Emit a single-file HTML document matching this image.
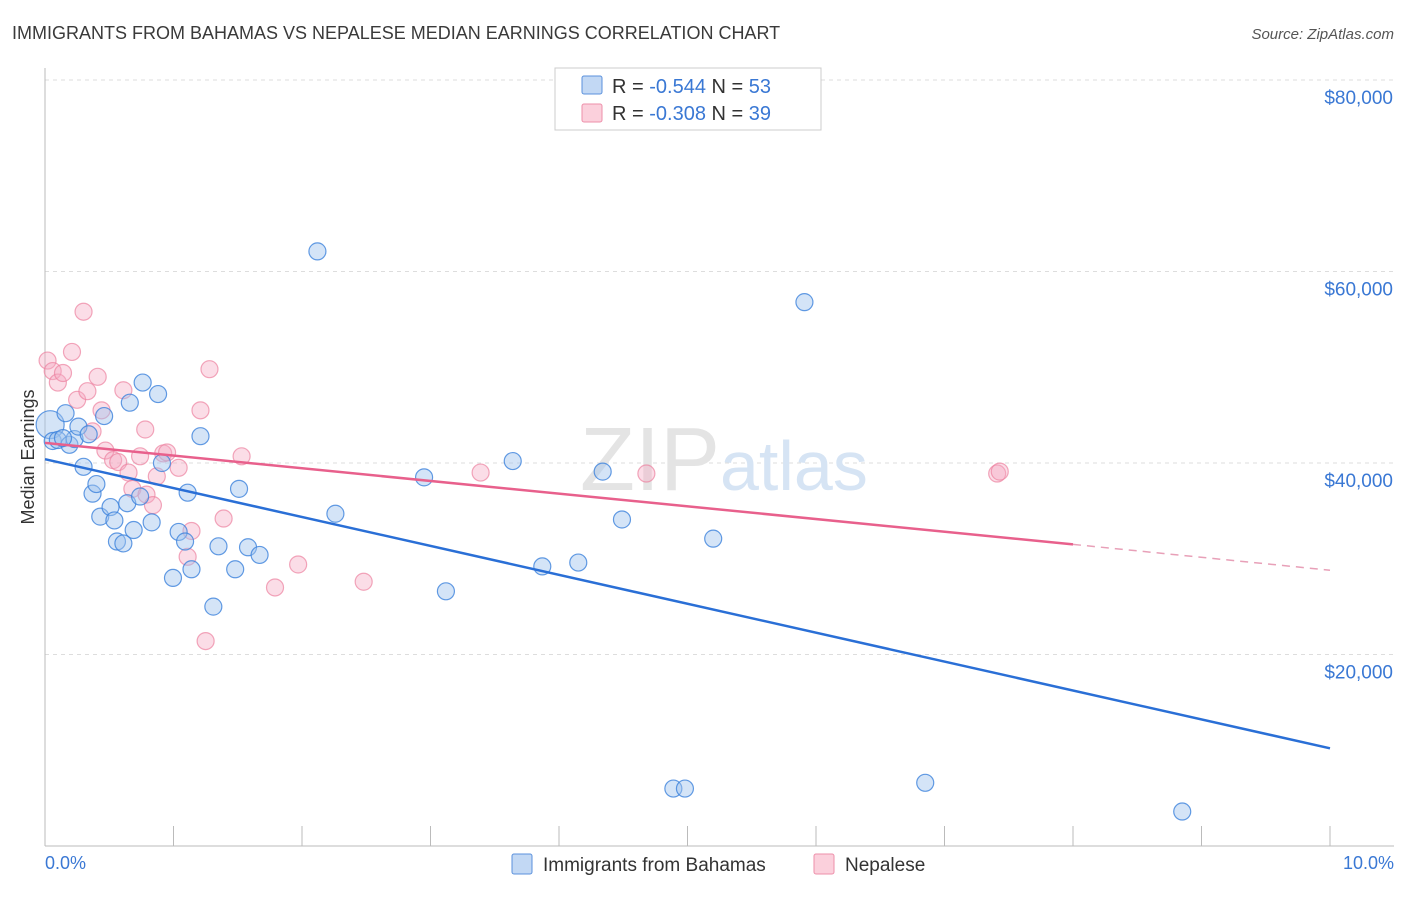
<!DOCTYPE html>
<html><head><meta charset="utf-8"><style>
body{margin:0;background:#fff;font-family:"Liberation Sans",sans-serif;}
svg text{font-family:"Liberation Sans",sans-serif;}
</style></head><body>
<svg id="chart" width="1406" height="892" viewBox="0 0 1406 892">
<text x="12" y="39" font-size="18" fill="#3a3a3a">IMMIGRANTS FROM BAHAMAS VS NEPALESE MEDIAN EARNINGS CORRELATION CHART</text>
<text x="1394" y="39" font-size="15" fill="#555" font-style="italic" text-anchor="end">Source: ZipAtlas.com</text>
<g id="grid"></g>
<text x="720" y="490" font-size="90" fill="#e4e4e4" font-family="Liberation Serif" text-anchor="end">ZIP</text>
<text x="720" y="490" font-size="70" fill="#d6e4f4">atlas</text>
<line x1="45" y1="68" x2="45" y2="846" stroke="#bbb"/>
<line x1="45" y1="846" x2="1394" y2="846" stroke="#bbb"/>
<g id="xticks"></g>
<text x="45" y="869" font-size="18" fill="#3a78d4">0.0%</text>
<text x="1394" y="869" font-size="18" fill="#3a78d4" text-anchor="end">10.0%</text>
<text transform="translate(34,457) rotate(-90)" font-size="18" fill="#333" text-anchor="middle">Median Earnings</text>
<g id="points"></g>
<g id="trends"></g>
<g>
<rect x="555" y="68" width="266" height="62" fill="#fff" stroke="#ccc"/>
<rect x="582" y="76" width="20" height="18" fill="#c2d8f4" stroke="#5b91dc" rx="2"/>
<rect x="582" y="104" width="20" height="18" fill="#fbd0dc" stroke="#ee8faa" rx="2"/>
<text x="612" y="93" font-size="20" fill="#333">R = <tspan fill="#3a78d4">-0.544</tspan>   N = <tspan fill="#3a78d4">53</tspan></text>
<text x="612" y="120" font-size="20" fill="#333">R = <tspan fill="#3a78d4">-0.308</tspan>   N = <tspan fill="#3a78d4">39</tspan></text>
</g>
<g>
<rect x="512" y="854" width="20" height="20" fill="#c2d8f4" stroke="#5b91dc" rx="2"/>
<text x="543" y="871" font-size="19" fill="#333">Immigrants from Bahamas</text>
<rect x="814" y="854" width="20" height="20" fill="#fbd0dc" stroke="#ee8faa" rx="2"/>
<text x="845" y="871" font-size="19" fill="#333">Nepalese</text>
</g>
</svg>
<script>
const yTicks=[20000,40000,60000,80000];
const yTickLabels=["$20,000","$40,000","$60,000","$80,000"];
const xTicks=[0,1,2,3,4,5,6,7,8,9,10];
const blueX=[0.04,0.06,0.10,0.16,0.19,0.23,0.26,0.30,0.34,0.37,0.40,0.43,0.46,0.51,0.54,0.56,0.61,0.64,0.69,0.74,0.76,0.83,0.88,0.66,0.91,0.996,1.04,1.09,1.11,1.14,1.21,1.31,1.35,1.48,1.51,1.58,1.67,2.12,2.26,2.95,3.12,3.64,3.87,4.15,4.34,4.49,4.89,4.98,5.20,5.91,6.85,8.85,0.14];
const blueY=[44000,42300,42400,45200,41900,42500,43800,39600,43000,36800,37800,34400,44900,35400,34000,31800,31600,35800,33000,36500,48400,33800,47200,46300,40000,28000,32800,31800,36900,28900,42800,25000,31300,28900,37300,31200,30400,62100,34700,38500,26600,40200,29200,29600,39100,34100,6000,6000,32100,56800,6600,3600,42600];
const pinkX=[0.02,0.06,0.10,0.14,0.21,0.25,0.30,0.33,0.37,0.41,0.44,0.47,0.53,0.57,0.61,0.65,0.68,0.74,0.78,0.79,0.84,0.87,0.92,0.95,1.04,1.11,1.14,1.21,1.25,1.28,1.39,1.53,1.79,1.97,2.48,3.39,4.68,7.41,7.43];
const pinkY=[50700,49600,48400,49400,51600,46600,55800,47500,43300,49000,45500,41300,40300,40100,47600,39000,37300,40700,43500,36700,35600,38600,41000,41100,39500,30200,32900,45500,21400,49800,34200,40700,27000,29400,27600,39000,38900,38900,39100];
const blueTrend=[[0,40400],[10,10200]];
const pinkTrendSolid=[[0,42100],[8,31500]];
const pinkTrendDash=[[8,31500],[10,28800]];
const X=v=>45+v*128.5, Y=v=>846-v*191.5/20000;
const NS="http://www.w3.org/2000/svg";
function mk(t,a,p){const e=document.createElementNS(NS,t);for(const k in a)e.setAttribute(k,a[k]);p.appendChild(e);return e;}
const grid=document.getElementById('grid');
yTicks.forEach((v,i)=>{
 const l=mk('line',{x1:45,x2:1394,y1:Y(v),y2:Y(v),stroke:'#ddd','stroke-dasharray':'4,4'},grid);
 
 
 const t=mk('text',{x:1393,y:Y(v)+24,'font-size':19,fill:'#3a78d4','text-anchor':'end'},grid);
 t.textContent=yTickLabels[i];
 
 
});
const tl=mk('line',{x1:45,x2:1394,y1:Y(80000),y2:Y(80000),stroke:'#ddd','stroke-dasharray':'4,4'},grid);
const xt=document.getElementById('xticks');
xTicks.forEach(v=>{const l=mk('line',{x1:X(v),x2:X(v),y1:826,y2:846,stroke:'#bbb'},xt);
 
 });
const pts=document.getElementById('points');
pinkX.forEach((x,i)=>{const c=mk('circle',{cx:X(x),cy:Y(pinkY[i]),r:8.5,fill:'rgba(246,170,194,0.4)',stroke:'rgba(236,130,160,0.7)','stroke-width':1.2},pts);
 
 });
blueX.forEach((x,i)=>{const c=mk('circle',{cx:X(x),cy:Y(blueY[i]),r:i==0?14:8.5,fill:'rgba(160,196,238,0.45)',stroke:'rgba(60,130,220,0.8)','stroke-width':1.2},pts);
 
 });
const tr=document.getElementById('trends');
const b=mk('line',{x1:X(blueTrend[0][0]),y1:Y(blueTrend[0][1]),x2:X(blueTrend[1][0]),y2:Y(blueTrend[1][1]),stroke:'#2a6fd6','stroke-width':2.5},tr);


const p=mk('line',{x1:X(pinkTrendSolid[0][0]),y1:Y(pinkTrendSolid[0][1]),x2:X(pinkTrendSolid[1][0]),y2:Y(pinkTrendSolid[1][1]),stroke:'#e8608c','stroke-width':2.5},tr);


const pd=mk('line',{x1:X(pinkTrendDash[0][0]),y1:Y(pinkTrendDash[0][1]),x2:X(pinkTrendDash[1][0]),y2:Y(pinkTrendDash[1][1]),stroke:'#e8a0b8','stroke-width':1.5,'stroke-dasharray':'8,6'},tr);


</script>
</body></html>
